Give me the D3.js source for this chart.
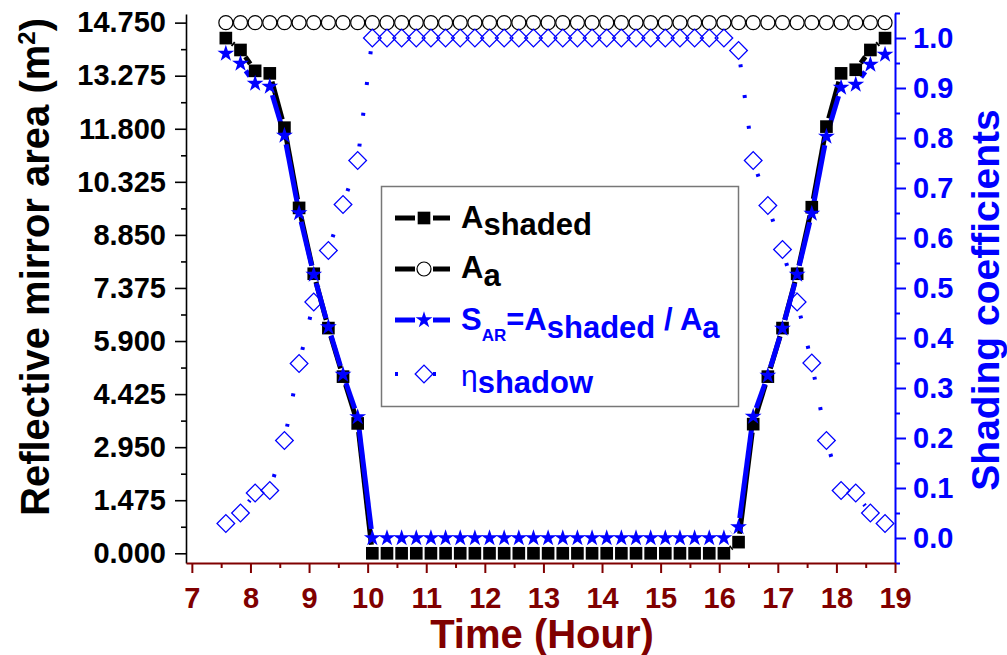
<!DOCTYPE html>
<html><head><meta charset="utf-8">
<script src="https://cdn.jsdelivr.net/npm/d3@7"></script>
<style>
body{margin:0;background:#fff}
svg{display:block}
text{font-family:"Liberation Sans",Arial,Helvetica,sans-serif;font-weight:bold}
</style>
</head><body>
<svg id="chart" width="1007" height="655"></svg>
<script>
// ---------- data ----------
const times = [7.58, 7.83, 8.08, 8.33, 8.58, 8.83, 9.08, 9.33, 9.58, 9.83,
  10.08, 10.33, 10.58, 10.83, 11.08, 11.33, 11.58, 11.83, 12.08, 12.33,
  12.58, 12.83, 13.08, 13.33, 13.58, 13.83, 14.08, 14.33, 14.58, 14.83,
  15.08, 15.33, 15.58, 15.83, 16.08, 16.33, 16.58, 16.83, 17.08, 17.33,
  17.58, 17.83, 18.08, 18.33, 18.58, 18.83];
const areaShaded = [14.32, 13.99, 13.41, 13.34, 11.83, 9.60, 7.77, 6.26, 4.91, 3.61,
  0, 0, 0, 0, 0, 0, 0, 0, 0, 0,
  0, 0, 0, 0, 0, 0, 0, 0, 0, 0,
  0, 0, 0, 0, 0, 0.31, 3.59, 4.91, 6.26, 7.77,
  9.62, 11.86, 13.34, 13.44, 13.99, 14.32];
const areaTotal = [14.75, 14.75, 14.75, 14.75, 14.75, 14.75, 14.75, 14.75, 14.75, 14.75,
  14.75, 14.75, 14.75, 14.75, 14.75, 14.75, 14.75, 14.75, 14.75, 14.75,
  14.75, 14.75, 14.75, 14.75, 14.75, 14.75, 14.75, 14.75, 14.75, 14.75,
  14.75, 14.75, 14.75, 14.75, 14.75, 14.75, 14.75, 14.75, 14.75, 14.75,
  14.75, 14.75, 14.75, 14.75, 14.75, 14.75];
const shadingRatio = [0.969, 0.949, 0.909, 0.903, 0.805, 0.650, 0.527, 0.422, 0.327, 0.242,
  0, 0, 0, 0, 0, 0, 0, 0, 0, 0,
  0, 0, 0, 0, 0, 0, 0, 0, 0, 0,
  0, 0, 0, 0, 0, 0.022, 0.243, 0.325, 0.419, 0.527,
  0.649, 0.803, 0.901, 0.907, 0.947, 0.967];
const etaShadow = [0.029, 0.050, 0.090, 0.095, 0.195, 0.349, 0.472, 0.575, 0.667, 0.755,
  1.0, 1.0, 1.0, 1.0, 1.0, 1.0, 1.0, 1.0, 1.0, 1.0,
  1.0, 1.0, 1.0, 1.0, 1.0, 1.0, 1.0, 1.0, 1.0, 1.0,
  1.0, 1.0, 1.0, 1.0, 1.0, 0.975, 0.755, 0.665, 0.577, 0.472,
  0.350, 0.195, 0.095, 0.090, 0.050, 0.029];
const leftTicks = [0, 1.475, 2.95, 4.425, 5.9, 7.375, 8.85, 10.325, 11.8, 13.275, 14.75];
const leftMinor = [0.7375, 2.2125, 3.6875, 5.1625, 6.6375, 8.1125, 9.5875, 11.0625, 12.5375, 14.0125];
const rightTicks = [0, 0.1, 0.2, 0.3, 0.4, 0.5, 0.6, 0.7, 0.8, 0.9, 1.0];
const rightMinor = [-0.05, 0.05, 0.15, 0.25, 0.35, 0.45, 0.55, 0.65, 0.75, 0.85, 0.95, 1.05];
const timeTicks = [7, 8, 9, 10, 11, 12, 13, 14, 15, 16, 17, 18, 19];
const timeMinor = [7.5, 8.5, 9.5, 10.5, 11.5, 12.5, 13.5, 14.5, 15.5, 16.5, 17.5, 18.5];

// ---------- setup ----------
const DARKRED = "#800000", BLUE = "#0000ff";
const svg = d3.select("#chart");
const x = d3.scaleLinear().domain([6.9, 19]).range([186, 895]);
const yL = d3.scaleLinear().domain([-0.27, 14.99]).range([563, 14]);
const yR = d3.scaleLinear().domain([-0.05, 1.05]).range([563, 13]);

// ---------- axes ----------
function styleAxis(g, color, width, fs) {
  g.selectAll("path.domain").attr("stroke", color).attr("stroke-width", width);
  g.selectAll(".tick line").attr("stroke", color).attr("stroke-width", width);
  g.selectAll(".tick text").attr("fill", color).style("font-size", fs + "px")
    .style("font-family", '"Liberation Sans",Arial,sans-serif').style("font-weight", "bold");
}
// left
const gL = svg.append("g").attr("transform", "translate(186,0)")
  .call(d3.axisLeft(yL).tickValues(leftTicks).tickFormat(d3.format(".3f")).tickSize(11).tickPadding(9).tickSizeOuter(0));
styleAxis(gL, "#000", 1.6, 29);
const gLm = svg.append("g").attr("transform", "translate(186,0)")
  .call(d3.axisLeft(yL).tickValues(leftMinor).tickFormat("").tickSize(5).tickSizeOuter(0));
gLm.select("path.domain").remove();
styleAxis(gLm, "#000", 1.6, 29);
// right
const gR = svg.append("g").attr("transform", "translate(895,0)")
  .call(d3.axisRight(yR).tickValues(rightTicks).tickFormat(d3.format(".1f")).tickSize(11).tickPadding(7).tickSizeOuter(0));
styleAxis(gR, BLUE, 2, 29);
const gRm = svg.append("g").attr("transform", "translate(895,0)")
  .call(d3.axisRight(yR).tickValues(rightMinor).tickFormat("").tickSize(5).tickSizeOuter(0));
gRm.select("path.domain").remove();
styleAxis(gRm, BLUE, 2, 29);
// bottom
const gB = svg.append("g").attr("transform", "translate(0,563)")
  .call(d3.axisBottom(x).tickValues(timeTicks).tickFormat(d3.format("d")).tickSize(10).tickPadding(14).tickSizeOuter(0));
styleAxis(gB, DARKRED, 2, 29);
const gBm = svg.append("g").attr("transform", "translate(0,563)")
  .call(d3.axisBottom(x).tickValues(timeMinor).tickFormat("").tickSize(5).tickSizeOuter(0));
gBm.select("path.domain").remove();
styleAxis(gBm, DARKRED, 2, 29);

// titles
const lt = svg.append("text").attr("transform", "translate(49,267) rotate(-90)")
  .attr("text-anchor", "middle").style("font-size", "40px").attr("fill", "#000");
lt.append("tspan").text("Reflective mirror area (m");
lt.append("tspan").attr("dy", -14).style("font-size", "24px").text("2");
lt.append("tspan").attr("dy", 14).text(")");
svg.append("text").attr("transform", "translate(999,300) rotate(-90)")
  .attr("text-anchor", "middle").style("font-size", "39px").attr("fill", BLUE)
  .text("Shading coefficients");
svg.append("text").attr("x", 542).attr("y", 648)
  .attr("text-anchor", "middle").style("font-size", "40px").attr("fill", DARKRED)
  .text("Time (Hour)");

// ---------- helpers ----------
function gapSegments(pts, gap) {
  const segs = [];
  for (let i = 0; i < pts.length - 1; i++) {
    const [x1, y1] = pts[i], [x2, y2] = pts[i + 1];
    const dx = x2 - x1, dy = y2 - y1, len = Math.hypot(dx, dy);
    if (len <= 2 * gap) continue;
    const ux = dx / len, uy = dy / len;
    segs.push([x1 + ux * gap, y1 + uy * gap, x2 - ux * gap, y2 - uy * gap]);
  }
  return segs;
}
function drawSegs(g, segs, color, width, dash) {
  g.selectAll(null).data(segs).join("line")
    .attr("x1", d => d[0]).attr("y1", d => d[1]).attr("x2", d => d[2]).attr("y2", d => d[3])
    .attr("stroke", color).attr("stroke-width", width)
    .attr("stroke-dasharray", dash || null).attr("stroke-dashoffset", dash ? -5 : null);
}
const sq = d3.symbol().type(d3.symbolSquare).size(160)();
const star = d3.symbol().type(d3.symbolStar).size(88)();
const diamond = d3.symbol().type(d3.symbolSquare).size(155)();

const ptsShaded = times.map((t, i) => [x(t), yL(areaShaded[i])]);
const ptsTotal = times.map((t, i) => [x(t), yL(areaTotal[i])]);
const ptsRatio = times.map((t, i) => [x(t), yR(shadingRatio[i])]);
const ptsEta = times.map((t, i) => [x(t), yR(etaShadow[i])]);

const plot = svg.append("g");
drawSegs(plot.append("g"), gapSegments(ptsShaded, 8.5), "#000", 5);
drawSegs(plot.append("g"), gapSegments(ptsTotal, 8.5), "#000", 5);
drawSegs(plot.append("g"), gapSegments(ptsRatio, 9), BLUE, 5);
drawSegs(plot.append("g"), gapSegments(ptsEta, 9), BLUE, 4, "3,28");

plot.append("g").selectAll("path").data(ptsShaded).join("path")
  .attr("d", sq).attr("transform", d => `translate(${d[0]},${d[1]})`).attr("fill", "#000");
plot.append("g").selectAll("circle").data(ptsTotal).join("circle")
  .attr("cx", d => d[0]).attr("cy", d => d[1]).attr("r", 7)
  .attr("fill", "#fff").attr("stroke", "#000").attr("stroke-width", 1.2);
plot.append("g").selectAll("path").data(ptsRatio).join("path")
  .attr("d", star).attr("transform", d => `translate(${d[0]},${d[1]})`).attr("fill", BLUE);
plot.append("g").selectAll("path").data(ptsEta).join("path")
  .attr("d", diamond).attr("transform", d => `translate(${d[0]},${d[1]}) rotate(45)`)
  .attr("fill", "none").attr("stroke", BLUE).attr("stroke-width", 1.3);

// ---------- legend ----------
const lg = svg.append("g");
lg.append("rect").attr("x", 381.5).attr("y", 186.5).attr("width", 357).attr("height", 220)
  .attr("fill", "#fff").attr("stroke", "#777").attr("stroke-width", 1.5);
const rows = [218, 269, 320, 374];
const lx1 = 395, lx2 = 450, lm = 424;
function legLine(y, color) {
  lg.append("line").attr("x1", lx1).attr("x2", lm - 9).attr("y1", y).attr("y2", y).attr("stroke", color).attr("stroke-width", 5);
  lg.append("line").attr("x1", lm + 9).attr("x2", lx2).attr("y1", y).attr("y2", y).attr("stroke", color).attr("stroke-width", 5);
}
legLine(rows[0], "#000");
lg.append("path").attr("d", sq).attr("transform", `translate(${lm},${rows[0]})`).attr("fill", "#000");
legLine(rows[1], "#000");
lg.append("circle").attr("cx", lm).attr("cy", rows[1]).attr("r", 7).attr("fill", "#fff").attr("stroke", "#000").attr("stroke-width", 1.2);
legLine(rows[2], BLUE);
lg.append("path").attr("d", star).attr("transform", `translate(${lm},${rows[2]})`).attr("fill", BLUE);
lg.append("rect").attr("x", 395).attr("y", rows[3] - 2).attr("width", 3).attr("height", 4).attr("fill", BLUE);
lg.append("rect").attr("x", 433).attr("y", rows[3] - 2).attr("width", 3).attr("height", 4).attr("fill", BLUE);
lg.append("path").attr("d", diamond).attr("transform", `translate(${lm},${rows[3]}) rotate(45)`)
  .attr("fill", "none").attr("stroke", BLUE).attr("stroke-width", 1.3);

const tx = 461, FS = 31;
function legText(y, color) {
  return lg.append("text").attr("x", tx).attr("y", y).attr("fill", color).style("font-size", FS + "px");
}
let t1 = legText(228, "#000");
t1.append("tspan").text("A");
t1.append("tspan").attr("dy", 7).text("shaded");
let t2 = legText(278, "#000");
t2.append("tspan").text("A");
t2.append("tspan").attr("dy", 8).text("a");
let t3 = legText(330, BLUE);
t3.append("tspan").text("S");
t3.append("tspan").attr("dy", 11).style("font-size", "17px").text("AR");
t3.append("tspan").attr("dy", -11).text("=A");
t3.append("tspan").attr("dy", 8).text("shaded");
t3.append("tspan").attr("dy", -8).text(" / A");
t3.append("tspan").attr("dy", 8).text("a");
let t4 = legText(386, BLUE);
t4.append("tspan").style("font-weight", "normal").style("font-size", "30px").text("η");
t4.append("tspan").attr("dy", 7).text("shadow");
</script>
</body></html>
